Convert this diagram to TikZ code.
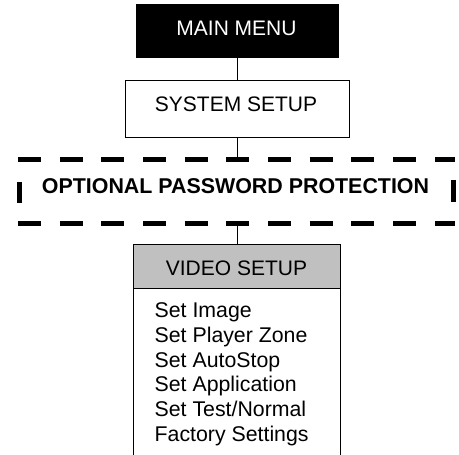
\documentclass[tikz,border=0pt]{standalone}
\usepackage{fontspec}
\setmainfont{Liberation Sans}
\definecolor{hdrgray}{RGB}{192,192,192}
\begin{document}
\begin{tikzpicture}[x=1pt,y=-1pt,
  box/.style={draw=black,line width=1.4pt,rectangle,inner sep=0pt,anchor=north west},
  lbl/.style={font=\fontsize{21}{24}\selectfont,inner sep=0pt,anchor=base},
  conn/.style={draw=black,line width=1.4pt},
  dsh/.style={draw=black,line width=4.8pt,line cap=butt}]
\useasboundingbox (0,0) rectangle (459,455);
\clip (0,0) rectangle (459,455);
% boxes
\node[box,fill=black,minimum width=202pt,minimum height=53pt] (main) at (136,4) {};
\node[box,fill=white,minimum width=224pt,minimum height=57pt] (sys) at (125,80) {};
\node[rectangle,inner sep=0pt,minimum width=437pt,minimum height=63pt] (pwd) at (236.5,191.5) {};
\node[box,fill=hdrgray,minimum width=207pt,minimum height=44pt] (vid) at (133,244) {};
\node[box,fill=white,minimum width=207pt,minimum height=180pt] (list) at (133,288) {};
% texts
\node[lbl,text=white] (mainlbl) at (236.5,35) {MAIN MENU};
\node[lbl] (syslbl) at (236,111) {SYSTEM SETUP};
\node[lbl,font=\fontsize{21.4}{24}\selectfont\bfseries] (pwdlbl) at (235.5,193) {OPTIONAL PASSWORD PROTECTION};
\node[lbl] (vidlbl) at (236.5,275) {VIDEO SETUP};
\node[font=\fontsize{21.3}{24.8}\selectfont,inner sep=0pt,anchor=north west,align=left] (items) at (154.5,302.5)
  {Set Image\\Set Player Zone\\Set AutoStop\\Set Application\\Set Test/Normal\\Factory Settings};
% dashed password frame
\draw[dsh,dash pattern=on 23pt off 18.7pt] (pwd.north west) -- (pwd.north east);
\draw[dsh,dash pattern=on 23pt off 18.7pt] (pwd.south west) -- (pwd.south east);
\draw[dsh,dash pattern=on 0pt off 22pt on 21pt off 40pt] ([xshift=2pt]pwd.north west) -- ([xshift=2pt]pwd.south west);
\draw[dsh,dash pattern=on 0pt off 20pt on 22pt off 40pt] ([xshift=-1.5pt]pwd.north east) -- ([xshift=-1.5pt]pwd.south east);
% connectors
\draw[conn] (main.south) -- (main.south |- sys.north);
\draw[conn] (sys.south) -- (sys.south |- pwd.north);
\draw[conn] (pwd.south -| sys.south) -- (sys.south |- vid.north);
\end{tikzpicture}
\end{document}
